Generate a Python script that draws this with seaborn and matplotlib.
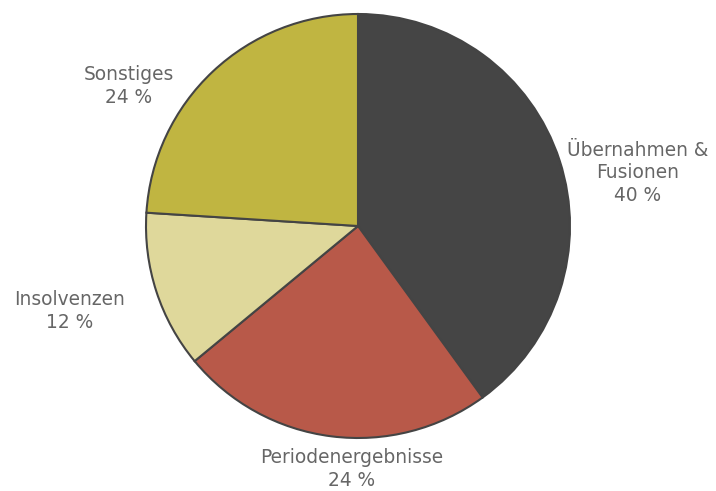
import matplotlib
matplotlib.use("Agg")
import matplotlib.pyplot as plt
import seaborn as sns

sns.set_theme(style="white")
plt.rcParams['font.family'] = ['DejaVu Sans']
plt.rcParams['font.sans-serif'] = ['DejaVu Sans']

categories = ["Übernahmen &\nFusionen", "Periodenergebnisse", "Insolvenzen", "Sonstiges"]
shares = [40, 24, 12, 24]
colors = ["#454545", "#b85949", "#dfd89b", "#c0b541"]
# label positions in units of pie radius
label_pos = [(1.32, 0.25), (-0.03, -1.145), (-1.36, -0.40), (-1.08, 0.66)]

fig = plt.figure(figsize=(7.16, 4.91), dpi=100)
ax = fig.add_axes([146 / 716, 53 / 491, 424 / 716, 424 / 491])

ax.pie(shares, colors=colors, startangle=90, counterclock=False, radius=1,
       wedgeprops=dict(edgecolor="#444444", linewidth=1.5))
ax.set_xlim(-1.0, 1.0)
ax.set_ylim(-1.0, 1.0)
ax.set_aspect("equal")
ax.axis("off")

for cat, val, (x, y) in zip(categories, shares, label_pos):
    ax.text(x, y, f"{cat}\n{val} %", ha="center", va="center", fontsize=13.4,
            family="DejaVu Sans", color="#666666", linespacing=1.25, clip_on=False)

fig.savefig("out.png", dpi=100)
